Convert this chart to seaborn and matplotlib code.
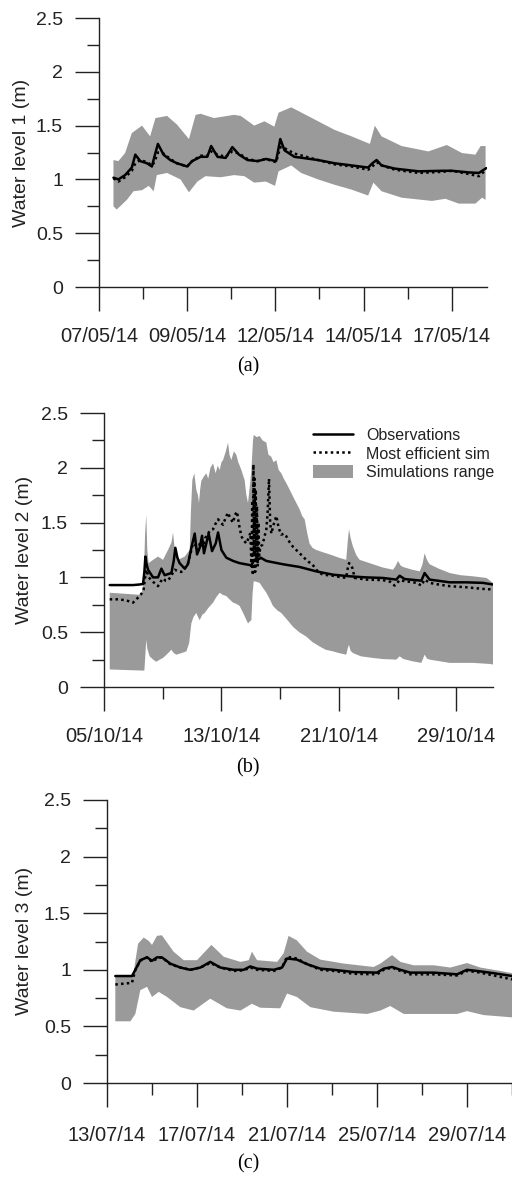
import numpy as np
import matplotlib
matplotlib.use("Agg")
import matplotlib.pyplot as plt
from matplotlib.lines import Line2D
from matplotlib.patches import Patch
import seaborn as sns

# ---------------- Panel (a) : days since 07/05/14 ----------------
a_obs_d = [0.41, 0.55, 0.74, 0.93, 1.03, 1.17, 1.36, 1.50, 1.57, 1.67, 1.83, 2.02, 2.21, 2.50, 2.64, 2.88, 3.07,
           3.18, 3.36, 3.59, 3.78, 3.97, 4.21, 4.50, 4.73, 5.02, 5.14, 5.26, 5.54, 6.21, 6.68, 7.16, 7.63, 7.75,
           7.87, 8.01, 8.39, 9.06, 9.72, 10.01, 10.48, 10.77, 10.98]
a_obs_v = [1.016, 1.00, 1.04, 1.11, 1.23, 1.17, 1.15, 1.12, 1.21, 1.33, 1.23, 1.18, 1.15, 1.12, 1.17, 1.21, 1.21,
           1.31, 1.21, 1.20, 1.30, 1.23, 1.18, 1.17, 1.19, 1.17, 1.375, 1.27, 1.21, 1.18, 1.15, 1.13, 1.11, 1.15,
           1.18, 1.13, 1.10, 1.075, 1.08, 1.08, 1.065, 1.06, 1.105]
a_sim_v = [1.01, 0.98, 1.02, 1.08, 1.15, 1.18, 1.16, 1.13, 1.16, 1.25, 1.24, 1.19, 1.15, 1.12, 1.17, 1.22, 1.22,
           1.26, 1.23, 1.21, 1.26, 1.24, 1.19, 1.17, 1.19, 1.16, 1.30, 1.29, 1.24, 1.18, 1.14, 1.12, 1.09, 1.12,
           1.16, 1.13, 1.09, 1.06, 1.07, 1.08, 1.05, 1.03, 1.09]
a_hi_d = [0.41, 0.55, 0.74, 0.93, 1.22, 1.45, 1.60, 1.93, 2.21, 2.55, 2.74, 2.88, 3.26, 3.83, 4.02, 4.40, 4.69,
          4.97, 5.09, 5.45, 5.92, 6.68, 7.16, 7.68, 7.82, 8.01, 8.58, 9.34, 9.86, 10.29, 10.67, 10.82, 10.96]
a_hi_v = [1.18, 1.17, 1.245, 1.43, 1.50, 1.40, 1.57, 1.59, 1.51, 1.375, 1.60, 1.61, 1.57, 1.60, 1.59, 1.50, 1.54,
          1.49, 1.62, 1.67, 1.59, 1.46, 1.40, 1.33, 1.50, 1.40, 1.31, 1.26, 1.32, 1.245, 1.23, 1.31, 1.31]
a_lo_d = [0.41, 0.50, 0.60, 0.79, 0.98, 1.22, 1.41, 1.55, 1.64, 1.93, 2.31, 2.55, 2.79, 3.02, 3.45, 3.83, 4.12,
          4.40, 4.73, 4.99, 5.09, 5.45, 5.73, 6.21, 6.68, 7.16, 7.63, 7.78, 8.01, 8.58, 9.44, 9.82, 10.20, 10.67,
          10.86, 10.96]
a_lo_v = [0.75, 0.72, 0.75, 0.81, 0.89, 0.90, 0.94, 0.89, 1.04, 1.06, 1.00, 0.88, 0.98, 1.03, 1.02, 1.04, 1.03,
          0.97, 0.98, 0.94, 1.075, 1.13, 1.06, 1.00, 0.95, 0.905, 0.85, 0.97, 0.89, 0.83, 0.80, 0.82, 0.775, 0.775,
          0.83, 0.81]
a_ticklabels = ["07/05/14", "09/05/14", "12/05/14", "14/05/14", "17/05/14"]

# ---------------- Panel (b) : days since 05/10/14 ----------------
b_obs_d = [0.39, 1.98, 2.40, 2.66, 2.75, 2.82, 2.90, 3.00, 3.34, 3.68, 3.91, 4.13, 4.59, 4.75, 4.86, 5.00, 5.15,
           5.50, 5.72, 5.95, 6.18, 6.34, 6.52, 6.68, 6.81, 6.97, 7.13, 7.36, 7.61, 7.77, 7.90, 8.00, 8.33, 8.80,
           9.24, 10.04, 10.20, 10.38, 10.60, 10.67, 11.06, 12.19, 13.33, 14.46, 15.60, 16.73, 17.87, 19.00,
           19.91, 20.14, 20.48, 21.62, 21.84, 22.18, 23.55, 24.68, 25.82, 26.50]
b_obs_v = [0.93, 0.93, 0.935, 0.94, 1.05, 1.19, 1.12, 1.07, 1.00, 1.00, 1.08, 1.02, 1.04, 1.15, 1.27, 1.18, 1.13,
           1.08, 1.12, 1.27, 1.40, 1.21, 1.27, 1.38, 1.22, 1.31, 1.40, 1.24, 1.31, 1.41, 1.32, 1.25, 1.18, 1.15,
           1.13, 1.11, 1.15, 1.17, 1.17, 1.18, 1.15, 1.12, 1.095, 1.055, 1.025, 1.01, 1.00, 0.995,
           0.98, 1.015, 0.985, 0.97, 1.04, 0.98, 0.955, 0.955, 0.95, 0.935]
b_sim_d = [0.39, 1.00, 1.52, 1.98, 2.20, 2.43, 2.60, 2.70, 2.80, 2.88, 3.05, 3.34, 3.68, 3.85, 4.02, 4.20, 4.36,
           4.60, 4.81, 5.00, 5.27, 5.50, 5.72, 5.90, 6.06, 6.20, 6.40, 6.55, 6.74, 6.90, 7.08, 7.25, 7.43, 7.60,
           7.77, 7.95, 8.11, 8.30, 8.45, 8.60, 8.79, 8.92, 9.06, 9.20, 9.36, 9.50, 9.70, 9.85, 9.97, 10.05, 10.10,
           10.14, 10.18, 10.22, 10.26, 10.30, 10.34, 10.38, 10.42, 10.47, 10.52, 10.57, 10.65, 10.80, 11.06,
           11.15, 11.24, 11.32, 11.40, 11.55, 11.74, 11.90, 12.08, 12.25, 12.42, 12.65, 12.87, 13.10, 13.33,
           13.55, 13.78, 13.95, 14.12, 14.30, 14.46, 14.70, 14.92, 15.60, 16.00, 16.50, 16.60, 16.69, 16.80,
           16.92, 17.08, 17.87, 19.00, 19.50, 19.80, 20.14, 20.50, 20.82, 21.30, 21.62, 21.84, 22.18, 22.80,
           23.55, 24.68, 25.82, 26.50]
b_sim_v = [0.80, 0.80, 0.79, 0.77, 0.80, 0.83, 0.86, 0.89, 1.00, 1.07, 1.00, 0.96, 0.92, 0.96, 0.99, 0.97, 0.97,
           1.02, 1.07, 1.06, 1.05, 1.08, 1.13, 1.22, 1.31, 1.30, 1.25, 1.32, 1.28, 1.36, 1.40, 1.43, 1.44, 1.49,
           1.53, 1.50, 1.48, 1.55, 1.59, 1.54, 1.50, 1.57, 1.60, 1.48, 1.375, 1.34, 1.31, 1.36, 1.405, 1.10, 1.70,
           1.02, 2.03, 1.20, 1.90, 1.05, 1.80, 1.15, 1.65, 1.10, 1.50, 1.20, 1.28, 1.30, 1.44,
           1.60, 1.90, 1.50, 1.40, 1.48, 1.56, 1.45, 1.39, 1.40, 1.375, 1.32, 1.28, 1.25, 1.22,
           1.19, 1.16, 1.14, 1.13, 1.10, 1.07, 1.04, 1.025, 1.015, 1.005, 0.995, 1.08, 1.13, 1.12,
           1.085, 0.995, 0.98, 0.975, 0.96, 0.925, 0.975, 0.965, 0.96, 0.95, 0.925, 0.98, 0.95, 0.935,
           0.92, 0.91, 0.895, 0.89]
b_hi_d = [0.39, 2.54, 2.70, 2.80, 2.88, 2.95, 3.04, 3.34, 3.68, 4.02, 4.36, 4.60, 4.70, 4.85, 5.04, 5.50, 5.84,
          5.92, 6.02, 6.15, 6.29, 6.40, 6.47, 6.55, 6.63, 6.80, 6.97, 7.10, 7.25, 7.43, 7.60, 7.75, 7.88, 8.00,
          8.11, 8.30, 8.45, 8.55, 8.67, 8.85, 9.01, 9.15, 9.36, 9.50, 9.58, 9.70, 9.81, 9.95, 10.04, 10.15, 10.20,
          10.40, 10.60, 10.80, 11.06, 11.20, 11.40, 11.55, 11.74, 11.90, 12.08, 12.25, 12.42, 12.65, 12.87,
          13.10, 13.33, 13.50, 13.67, 13.85, 14.00, 14.20, 14.46, 14.90, 15.37, 16.00, 16.50, 16.62, 16.69,
          16.80, 16.96, 17.20, 17.42, 18.32, 19.00, 19.69, 19.85, 20.03, 20.20, 20.37, 21.00, 21.51, 21.70,
          21.84, 22.00, 22.18, 22.80, 23.55, 24.30, 25.14, 26.05, 26.40, 26.50]
b_hi_v = [0.86, 0.84, 0.95, 1.40, 1.57, 1.25, 1.13, 1.16, 1.19, 1.16, 1.25, 1.32, 1.41, 1.22, 1.16, 1.19, 1.25,
          1.60, 1.89, 1.95, 1.80, 1.75, 1.68, 1.80, 1.88, 1.92, 1.95, 1.90, 2.00, 2.04, 1.95, 2.02, 1.98, 2.05,
          2.07, 2.15, 2.23, 2.12, 2.07, 2.15, 2.12, 2.05, 1.98, 1.92, 1.89, 1.75, 1.68, 1.85, 1.98, 2.25, 2.30,
          2.28, 2.29, 2.25, 2.23, 2.12, 2.10, 2.05, 2.07, 1.98, 1.95, 1.90, 1.86, 1.80, 1.74,
          1.68, 1.62, 1.56, 1.53, 1.40, 1.31, 1.27, 1.25, 1.23, 1.21, 1.18, 1.16, 1.35, 1.44,
          1.36, 1.28, 1.20, 1.16, 1.12, 1.09, 1.07, 1.10, 1.15, 1.11, 1.095, 1.07, 1.055, 1.12,
          1.22, 1.16, 1.12, 1.08, 1.04, 1.02, 1.01, 0.995, 0.96, 0.95]
b_lo_d = [0.39, 2.54, 2.75, 2.82, 2.88, 2.95, 3.11, 3.35, 3.56, 3.80, 4.02, 4.30, 4.59, 4.75, 4.93, 5.30, 5.61,
          5.80, 5.95, 6.10, 6.29, 6.40, 6.52, 6.70, 6.86, 7.10, 7.43, 7.65, 7.88, 8.10, 8.33, 8.55, 8.79, 9.00,
          9.24, 9.50, 9.81, 9.95, 10.04, 10.12, 10.20, 10.40, 10.60, 10.85, 11.06, 11.30, 11.51, 11.80, 12.08,
          12.50, 12.87, 13.30, 13.78, 14.20, 14.69, 15.10, 15.60, 16.00, 16.50, 16.62, 16.69, 16.80, 16.96,
          17.50, 18.32, 19.00, 19.91, 20.14, 20.40, 21.00, 21.62, 21.84, 22.00, 22.18, 23.55, 25.14, 26.30, 26.50]
b_lo_v = [0.16, 0.15, 0.15, 0.30, 0.43, 0.35, 0.28, 0.25, 0.23, 0.25, 0.265, 0.30, 0.34, 0.31, 0.295, 0.31, 0.325,
          0.40, 0.58, 0.64, 0.675, 0.64, 0.61, 0.66, 0.675, 0.72, 0.77, 0.82, 0.86, 0.84, 0.83, 0.80, 0.77, 0.76,
          0.74, 0.67, 0.58, 0.60, 0.61, 0.85, 0.965, 0.96, 0.95, 0.90, 0.86, 0.80, 0.74, 0.70, 0.675,
          0.61, 0.55, 0.50, 0.46, 0.41, 0.37, 0.34, 0.325, 0.31, 0.295, 0.36, 0.385, 0.33, 0.31,
          0.28, 0.265, 0.255, 0.25, 0.28, 0.255, 0.235, 0.22, 0.295, 0.26, 0.25, 0.22, 0.22, 0.21, 0.205]
b_ticklabels = ["05/10/14", "13/10/14", "21/10/14", "29/10/14"]

# ---------------- Panel (c) : days since 13/07/14 ----------------
c_obs_d = [0.37, 1.11, 1.26, 1.48, 1.78, 2.00, 2.22, 2.44, 2.81, 3.26, 3.70, 4.15, 4.59, 5.04, 5.63, 6.07, 6.37,
           6.67, 7.41, 7.78, 8.00, 8.44, 8.89, 9.48, 10.07, 10.96, 12.00, 12.30, 12.67, 13.04, 13.48, 14.52,
           15.56, 16.00, 16.44, 17.19, 18.00]
c_obs_v = [0.945, 0.945, 1.00, 1.085, 1.11, 1.08, 1.11, 1.11, 1.055, 1.02, 1.00, 1.02, 1.07, 1.02, 1.00, 1.00, 1.03,
           1.01, 1.00, 1.02, 1.10, 1.09, 1.05, 1.01, 1.00, 0.98, 0.975, 1.01, 1.025, 1.00, 0.975, 0.975,
           0.96, 1.00, 0.99, 0.97, 0.945]
c_sim_v = [0.87, 0.885, 1.00, 1.08, 1.11, 1.07, 1.10, 1.11, 1.05, 1.02, 1.00, 1.02, 1.06, 1.02, 0.99, 0.995, 1.02,
           1.00, 0.99, 1.02, 1.115, 1.10, 1.05, 1.00, 0.99, 0.965, 0.96, 1.00, 1.02, 0.99, 0.96, 0.96,
           0.95, 0.99, 0.98, 0.95, 0.915]
c_hi_d = [0.37, 1.16, 1.38, 1.63, 1.85, 2.00, 2.22, 2.44, 2.96, 3.41, 4.00, 4.64, 5.19, 5.93, 6.30, 6.44, 6.67,
          7.56, 7.85, 8.07, 8.44, 8.89, 9.48, 10.52, 11.85, 12.15, 12.67, 13.04, 13.63, 14.52, 15.26, 16.00,
          16.59, 17.48, 18.00]
c_hi_v = [0.945, 0.945, 1.23, 1.285, 1.256, 1.22, 1.30, 1.305, 1.16, 1.085, 1.085, 1.22, 1.115, 1.07, 1.085, 1.16,
          1.085, 1.07, 1.145, 1.30, 1.26, 1.16, 1.09, 1.055, 1.025, 1.055, 1.13, 1.07, 1.04, 1.04, 1.02, 1.06,
          1.02, 0.99, 0.97]
c_lo_d = [0.37, 1.04, 1.26, 1.48, 1.78, 2.00, 2.30, 2.67, 3.26, 3.85, 4.59, 5.33, 5.93, 6.44, 6.81, 7.70, 8.00,
          8.44, 9.04, 10.07, 11.56, 12.15, 12.59, 13.19, 14.52, 15.56, 16.00, 16.74, 18.00]
c_lo_v = [0.545, 0.545, 0.61, 0.82, 0.85, 0.76, 0.805, 0.76, 0.67, 0.64, 0.745, 0.66, 0.64, 0.70, 0.665, 0.66, 0.79,
          0.76, 0.67, 0.63, 0.61, 0.64, 0.68, 0.61, 0.61, 0.61, 0.635, 0.60, 0.58]
c_ticklabels = ["13/07/14", "17/07/14", "21/07/14", "25/07/14", "29/07/14"]

y_ticklabels = ["0", "0.5", "1", "1.5", "2", "2.5"]
y_labels = ["Water level 1 (m)", "Water level 2 (m)", "Water level 3 (m)"]
captions = ["(a)", "(b)", "(c)"]
legend_labels = ["Observations", "Most efficient sim", "Simulations range"]

# ---------------- styling ----------------
sns.set_style("ticks")
plt.rcParams['font.family'] = ['Liberation Sans', 'DejaVu Sans']
BAND = '#9a9a9a'
INK = '#222222'

W, H = 512, 1177
fig = plt.figure(figsize=(W / 100, H / 100), dpi=100)


def make_ax(left, top, right, bottom):
    return fig.add_axes([left / W, 1 - bottom / H, (right - left) / W, (bottom - top) / H])


def draw(ax, obs_d, obs_v, sim_d, sim_v, hi_d, hi_v, lo_d, lo_v, xmax, step, ticklabels, xpad):
    hx = np.asarray(hi_d, float); hy = np.asarray(hi_v, float)
    lx = np.asarray(lo_d, float); ly = np.asarray(lo_v, float)
    ax.fill(np.r_[hx, lx[::-1]], np.r_[hy, ly[::-1]], color=BAND, lw=0, zorder=1)
    sns.lineplot(x=obs_d, y=obs_v, ax=ax, color='black', lw=1.8, estimator=None, sort=False, zorder=3)
    sns.lineplot(x=sim_d, y=sim_v, ax=ax, color='black', lw=1.8, linestyle=(0, (1, 1.3)),
                 estimator=None, sort=False, zorder=4)
    ax.set_xlim(0, xmax)
    ax.set_ylim(0, 2.5)
    majors = [i * step for i in range(len(ticklabels))]
    ax.set_xticks(majors)
    ax.set_xticklabels(ticklabels)
    minors = [m + step / 2 for m in majors if m + step / 2 <= xmax + 1e-9]
    ax.set_xticks(minors, minor=True)
    ax.set_yticks([0, 0.5, 1, 1.5, 2, 2.5])
    ax.set_yticklabels(y_ticklabels)
    ax.set_yticks([0.25, 0.75, 1.25, 1.75, 2.25], minor=True)
    for s in ['top', 'right']:
        ax.spines[s].set_visible(False)
    for s in ['left', 'bottom']:
        ax.spines[s].set_color(INK)
        ax.spines[s].set_linewidth(1.0)
    ax.tick_params(which='major', direction='out', length=17.5, width=1.0, color=INK,
                   labelsize=14, labelcolor=INK)
    ax.tick_params(which='minor', direction='out', length=8.5, width=1.0, color=INK)
    ax.tick_params(axis='y', which='major', pad=8.5)
    ax.tick_params(axis='x', which='major', pad=xpad, labelsize=14.5)
    ax.set_xlabel('')
    ax.set_ylabel('')
    ax.set_facecolor('white')


ax_a = make_ax(99, 18, 487, 287)
draw(ax_a, a_obs_d, a_obs_v, a_obs_d, a_sim_v, a_hi_d, a_hi_v, a_lo_d, a_lo_v, 11.0, 2.5, a_ticklabels, 11.5)

ax_b = make_ax(104, 413, 493, 687)
draw(ax_b, b_obs_d, b_obs_v, b_sim_d, b_sim_v, b_hi_d, b_hi_v, b_lo_d, b_lo_v, 26.5, 8, b_ticklabels, 11.5)

ax_c = make_ax(107, 800, 512, 1083)
draw(ax_c, c_obs_d, c_obs_v, c_obs_d, c_sim_v, c_hi_d, c_hi_v, c_lo_d, c_lo_v, 18.0, 4, c_ticklabels, 13.5)

# y labels
for (xp, yp), lab in zip([(22, 153), (25, 550), (25, 941)], y_labels):
    fig.text(xp / W, 1 - yp / H, lab, rotation=90, ha='center', va='center', fontsize=14, color=INK)

# captions
for yp, cap in zip([367, 768, 1164], captions):
    fig.text(248 / W, 1 - yp / H, cap, ha='center', va='center', fontsize=14.5,
             family=['Liberation Serif', 'DejaVu Serif'], color='black')

# legend in panel (b)
handles = [Line2D([], [], color='black', lw=1.8),
           Line2D([], [], color='black', lw=1.8, linestyle=(0, (1, 1.3))),
           Patch(facecolor=BAND, edgecolor='none')]
ax_b.legend(handles, legend_labels, loc='upper left', bbox_to_anchor=(0.537, 0.945), frameon=False,
            fontsize=11.5, handlelength=2.5, handletextpad=0.85, labelspacing=0.2, borderpad=0,
            borderaxespad=0, handleheight=0.9, labelcolor=INK)

fig.savefig('out.png', dpi=100, facecolor='white')
